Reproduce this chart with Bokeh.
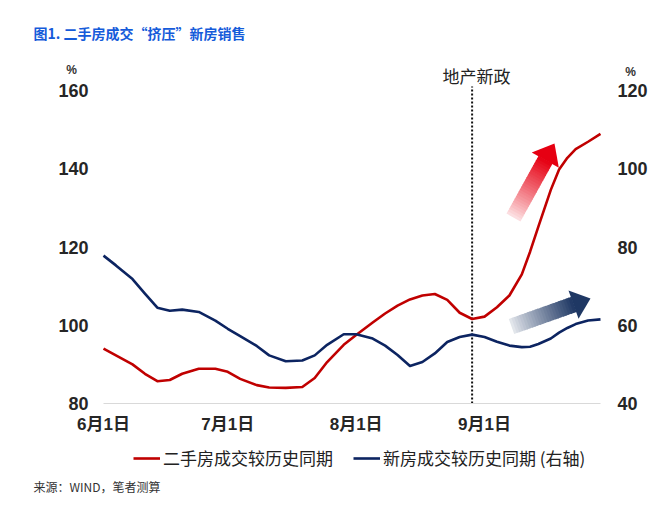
import math
import pandas as pd
from bokeh.plotting import figure
from bokeh.models import Range1d, LinearAxis, FixedTicker, Label, Legend, LegendItem
from bokeh.embed import file_html
from bokeh.resources import INLINE

# ---------------- data ----------------
dates = ["2023-06-01", "2023-06-04", "2023-06-08", "2023-06-11", "2023-06-14", "2023-06-17",
         "2023-06-20", "2023-06-24", "2023-06-28", "2023-07-01", "2023-07-04", "2023-07-08",
         "2023-07-11", "2023-07-15", "2023-07-19", "2023-07-22", "2023-07-25", "2023-07-29",
         "2023-08-01", "2023-08-05", "2023-08-08", "2023-08-11", "2023-08-14", "2023-08-17",
         "2023-08-20", "2023-08-23", "2023-08-26", "2023-08-29", "2023-09-01", "2023-09-04",
         "2023-09-07", "2023-09-10", "2023-09-12", "2023-09-14", "2023-09-17", "2023-09-19",
         "2023-09-21", "2023-09-23", "2023-09-26", "2023-09-29"]
# 二手房成交较历史同期 (left axis, %)
resale = [94.0, 92.3, 90.0, 87.6, 85.7, 86.0, 87.6, 88.9, 88.9, 88.1, 86.3, 84.7,
          84.1, 84.0, 84.2, 86.5, 90.6, 95.0, 97.5, 100.7, 103.0, 105.0, 106.6, 107.6,
          108.0, 106.5, 103.2, 101.6, 102.2, 104.6, 107.6, 113.0, 118.8, 125.2, 134.6, 139.8,
          142.8, 145.0, 146.9, 148.9]
# 新房成交较历史同期 (right axis, %)
new_home = [77.8, 75.3, 71.8, 68.1, 64.5, 63.7, 64.0, 63.4, 61.2, 59.1, 57.2, 54.7,
            52.3, 50.8, 51.0, 52.3, 55.0, 57.7, 57.7, 56.6, 54.8, 52.4, 49.6, 50.6,
            52.8, 55.7, 57.0, 57.6, 57.0, 55.8, 54.8, 54.4, 54.5, 55.2, 56.6, 58.1,
            59.3, 60.3, 61.2, 61.5]
tick_dates = ["2023-06-01", "2023-07-01", "2023-08-01", "2023-09-01"]
tick_labels = ["6月1日", "7月1日", "8月1日", "9月1日"]
left_ticks = [80, 100, 120, 140, 160]
right_ticks = [40, 60, 80, 100, 120]
policy_date = "2023-08-29"

series_names = ["二手房成交较历史同期", "新房成交较历史同期 (右轴)"]
title_text = "图1. 二手房成交“挤压”新房销售"
source_text = "来源：WIND，笔者测算"
policy_text = "地产新政"

# ---------------- layout ----------------
origin = pd.Timestamp(dates[0])
def day(s):
    return (pd.Timestamp(s) - origin).days

x = [day(d) for d in dates]

W, H = 660, 509
FL, FR, FT, FB = 103, 600, 90, 403          # where the data area sits on the page
x0, x1 = 0, x[-1]
y0, y1 = left_ticks[0], left_ticks[-1]
shift = left_ticks[0] - right_ticks[0]       # right axis = left axis - shift

def px2x(px):
    return x0 + (px - FL) / (FR - FL) * (x1 - x0)

def px2y(py):
    return y1 - (py - FT) / (FB - FT) * (y1 - y0)

RED = "#C00000"
BLUE = "#0C2461"
CJK = "'Noto Sans CJK SC'"
NUMF = "'Liberation Sans', 'Noto Sans CJK SC'"

p = figure(width=W, height=H, output_backend="svg", toolbar_location=None,
           x_range=Range1d(px2x(0), px2x(W)), y_range=Range1d(px2y(H), px2y(0)),
           x_axis_location=None, y_axis_location=None,
           min_border=0, min_border_left=0, min_border_right=0,
           min_border_top=0, min_border_bottom=0)
p.outline_line_color = None
p.grid.visible = False
p.background_fill_color = "white"
p.border_fill_color = "white"
p.extra_y_ranges = {"right": Range1d(px2y(H) - shift, px2y(0) - shift)}

xa = LinearAxis(fixed_location=y0, bounds=(x0, x1))
ya = LinearAxis(fixed_location=x0, bounds=(y0, y1))
ra = LinearAxis(y_range_name="right", fixed_location=x1, bounds=(right_ticks[0], right_ticks[-1]))
p.add_layout(xa, "below")
p.add_layout(ya, "left")
p.add_layout(ra, "right")

xa.ticker = FixedTicker(ticks=[day(d) for d in tick_dates])
xa.major_label_overrides = {day(d): lab for d, lab in zip(tick_dates, tick_labels)}
ya.ticker = FixedTicker(ticks=left_ticks)
ra.ticker = FixedTicker(ticks=right_ticks)

for ax in (xa, ya, ra):
    ax.major_tick_line_color = None
    ax.minor_tick_line_color = None
    ax.major_tick_in = 0
    ax.major_tick_out = 0
    ax.major_label_text_font = NUMF
    ax.major_label_text_font_style = "bold"
    ax.major_label_text_color = "#262626"
    ax.major_label_text_font_size = "18px"
xa.axis_line_color = "#D9D9D9"
xa.axis_line_width = 1
xa.major_label_standoff = 11
xa.major_label_text_font_size = "17px"
ya.axis_line_color = None
ra.axis_line_color = None
ya.major_label_standoff = 15
ra.major_label_standoff = 17

# ---------------- gradient arrows (decoration) ----------------
def gradient_arrow(tail, tip, shaft_w, head_w, head_len, rgb, n=24):
    tx, ty = tail
    hx, hy = tip
    L = math.hypot(hx - tx, hy - ty)
    ux, uy = (hx - tx) / L, (hy - ty) / L
    nx, ny = -uy, ux
    shaft_len = L - head_len
    xs, ys, cols = [], [], []
    for i in range(n):
        a0 = shaft_len * i / n
        a1 = min(shaft_len * (i + 1) / n + 0.8, shaft_len + 0.5)
        t = (i + 0.5) / n
        a = 0.10 + 0.90 * t ** 0.9
        c = tuple(int(round(255 * (1 - a) + v * a)) for v in rgb)
        pts = [(tx + ux * a0 + nx * shaft_w / 2, ty + uy * a0 + ny * shaft_w / 2),
               (tx + ux * a1 + nx * shaft_w / 2, ty + uy * a1 + ny * shaft_w / 2),
               (tx + ux * a1 - nx * shaft_w / 2, ty + uy * a1 - ny * shaft_w / 2),
               (tx + ux * a0 - nx * shaft_w / 2, ty + uy * a0 - ny * shaft_w / 2)]
        xs.append([px2x(q[0]) for q in pts])
        ys.append([px2y(q[1]) for q in pts])
        cols.append("#%02x%02x%02x" % c)
    bx, by = tx + ux * shaft_len, ty + uy * shaft_len
    head = [(bx + nx * head_w / 2, by + ny * head_w / 2), (hx, hy),
            (bx - nx * head_w / 2, by - ny * head_w / 2)]
    xs.append([px2x(q[0]) for q in head])
    ys.append([px2y(q[1]) for q in head])
    cols.append("#%02x%02x%02x" % rgb)
    p.patches(xs, ys, fill_color=cols, line_color=None)

gradient_arrow((513, 217), (554, 143), 16, 31, 19, (230, 0, 18))
gradient_arrow((511, 326), (590, 298), 16, 30, 18, (31, 56, 100))

# ---------------- policy line ----------------
p.segment(x0=[day(policy_date)], y0=[y0], x1=[day(policy_date)], y1=[px2y(86)],
          line_color="#111111", line_width=2, line_dash="2 2")

# ---------------- series ----------------
r1 = p.line(x, resale, color=RED, line_width=2.6, line_join="round")
r2 = p.line(x, new_home, color=BLUE, line_width=2.6, line_join="round", y_range_name="right")

legend = Legend(items=[LegendItem(label=series_names[0], renderers=[r1]),
                       LegendItem(label=series_names[1], renderers=[r2])],
                location=(133, H - 470), orientation="horizontal",
                glyph_width=27, glyph_height=20, label_standoff=3, spacing=20,
                padding=0, margin=0, border_line_color=None, background_fill_alpha=0,
                label_text_font_size="17px", label_text_font=CJK, label_text_color="#222222")
p.add_layout(legend)

# ---------------- texts ----------------
def add_text(text, px, py, size, color="#222222", bold=False, align="left", font=CJK):
    p.add_layout(Label(x=px2x(px), y=px2y(py), text=text, text_font_size=f"{size}px",
                       text_color=color, text_font_style="bold" if bold else "normal",
                       text_align=align, text_baseline="middle", text_font=font))

add_text(title_text, 33, 32, 14, color="#155BDA", bold=True)
add_text("%", 71, 69, 12, color="#333333", bold=True, align="center", font=NUMF)
add_text("%", 630, 71, 12, color="#333333", bold=True, align="center", font=NUMF)
add_text(policy_text, 476, 75, 17, color="#222222", align="center")
add_text(source_text, 33, 486, 12, color="#333333")

open("out.html", "w").write(file_html(p, INLINE))
